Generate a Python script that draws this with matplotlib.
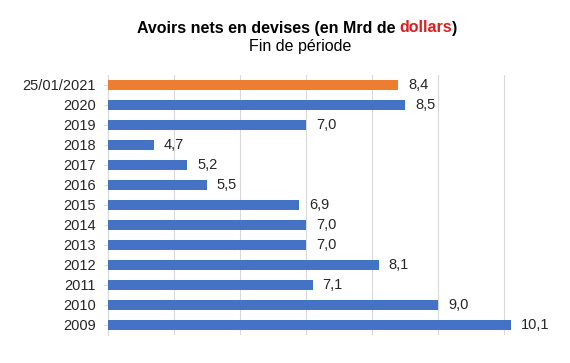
import numpy as np
import matplotlib.pyplot as plt

plt.rcParams['font.family'] = ['Liberation Sans', 'DejaVu Sans']

# Data (top to bottom)
labels = ["25/01/2021", "2020", "2019", "2018", "2017", "2016", "2015",
          "2014", "2013", "2012", "2011", "2010", "2009"]
values = [8.4, 8.5, 7.0, 4.7, 5.2, 5.5, 6.9, 7.0, 7.0, 8.1, 7.1, 9.0, 10.1]
colors = ["#ED7D31"] + ["#4472C4"] * (len(values) - 1)

fig = plt.figure(figsize=(5.7, 3.63), dpi=100)
ax = fig.add_axes([108 / 570, 1 - 335 / 363, 462 / 570, 260 / 363])

y = np.arange(len(labels))
ax.barh(y, values, height=0.5, color=colors, zorder=3)
for yi, v in zip(y, values):
    ax.text(v + 0.15, yi, f"{v:.1f}".replace(".", ","), va="center", ha="left",
            fontsize=10.5, color="#262626")

ax.set_yticks(y)
ax.set_yticklabels(labels, fontsize=10.5, color="#262626")
ax.set_ylim(len(labels) - 0.5, -0.5)
ax.set_xlim(4, 11)
ax.set_xticks(np.arange(4, 11))
ax.tick_params(axis="x", length=0, labelbottom=False)
ax.tick_params(axis="y", length=3, color="#E6D7BF", pad=6)
ax.grid(axis="x", color="#D9D9D9", linewidth=0.8, zorder=0)
for s in ["top", "right", "bottom"]:
    ax.spines[s].set_visible(False)
ax.spines["left"].set_color("#D9D9D9")

# Title with red word
parts = ["Avoirs nets en devises (en Mrd de ", "dollars", ")"]
cols = ["black", "#D92020", "black"]
fig.canvas.draw()
r = fig.canvas.get_renderer()
widths = []
for p in parts:
    tt = fig.text(0, 0, p, fontsize=11.5, fontweight="bold")
    widths.append(tt.get_window_extent(r).width)
    tt.remove()
x0 = (fig.bbox.width - sum(widths)) / 2 + 12
for p, c, w in zip(parts, cols, widths):
    fig.text(x0 / fig.bbox.width, 1 - 28 / 363, p, ha="left", va="center",
             fontsize=11.5, fontweight="bold", color=c)
    x0 += w
fig.text(0.5 + 15 / 570, 1 - 46 / 363, "Fin de période", ha="center", va="center",
         fontsize=11.5)

fig.savefig("out.png", dpi=100)
